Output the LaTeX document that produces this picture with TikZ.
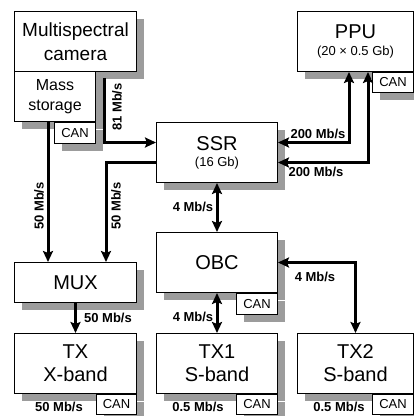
\documentclass[tikz,border=0pt]{standalone}
\usepackage{fontspec}
\setmainfont{Liberation Sans}
\usepackage{tikz}
\usetikzlibrary{arrows.meta,positioning,shadows}
\definecolor{ink}{HTML}{000000}
\definecolor{shade}{HTML}{9C9C9C}
\newcommand{\subtxt}[1]{{\fontsize{13}{15}\selectfont #1}}
\tikzset{
  unit/.style={rectangle, draw=ink, fill=white, line width=1pt, inner sep=0pt, align=center,
               anchor=north west, font=\fontsize{20}{23}\selectfont,
               drop shadow={shadow xshift=7pt, shadow yshift=-7pt, fill=shade, opacity=1}},
  canbox/.style={unit, font=\fontsize{13}{15}\selectfont, minimum width=41pt, minimum height=20pt},
  rate/.style={font=\fontsize{13}{15}\selectfont\bfseries, inner sep=0pt},
  link/.style={-{Stealth[length=11pt,width=10pt,inset=2pt]}, draw=ink, line width=3pt},
  duplex/.style={link, {Stealth[length=11pt,width=10pt,inset=2pt]}-{Stealth[length=11pt,width=10pt,inset=2pt]}}
}

\begin{document}
\begin{tikzpicture}[x=1pt, y=-1pt]
 \useasboundingbox (0,0) rectangle (414,416);
 \clip (0,0) rectangle (414,416);
 % payload side
 \node[unit, minimum width=122pt, minimum height=60pt, font=\fontsize{19}{24}\selectfont] (cam) at (14,11) {Multispectral\\camera};
 \node[unit, minimum width=81pt, minimum height=50pt, font=\fontsize{16}{20}\selectfont] (ms) at (14,71) {Mass\\storage};
 \node[canbox, minimum width=41pt, minimum height=21pt, below left=0pt of ms.south east] (mscan) {CAN};
 \node[unit, minimum width=116pt, minimum height=60pt] (ppu) at (297,11) {PPU\\[-6pt]\subtxt{(20 × 0.5 Gb)}};
 \node[canbox, below left=0pt of ppu.south east] (ppucan) {CAN};
 \node[unit, minimum width=121pt, minimum height=60pt] (ssr) at (156,122) {SSR\\[-7pt]\subtxt{(16 Gb)}};
 % platform side
 \node[unit, minimum width=122pt, minimum height=40pt] (mux) at (14,262) {MUX};
 \node[unit, minimum width=121pt, minimum height=60pt] (obc) at (156,232) {OBC};
 \node[canbox, minimum height=21pt, below left=0pt of obc.south east] (obccan) {CAN};
 \node[unit, minimum width=122pt, minimum height=60pt] (tx) at (14,333) {TX\\X-band};
 \node[canbox, minimum width=40pt, below left=0pt of tx.south east] (txcan) {CAN};
 \node[unit, minimum width=121pt, minimum height=60pt] (tx1) at (156,333) {TX1\\S-band};
 \node[canbox, below left=0pt of tx1.south east] (tx1can) {CAN};
 \node[unit, minimum width=116pt, minimum height=60pt] (tx2) at (297,333) {TX2\\S-band};
 \node[canbox, below left=0pt of tx2.south east] (tx2can) {CAN};

 \coordinate (camout) at (104,78);
 \draw[link] (camout) |- ([yshift=10pt]ssr.west);
 \draw[link] ([yshift=-10pt]ssr.west) -| ([xshift=-31pt]mux.north east);
 \draw[link] ([xshift=34pt]ms.south west) -- ([xshift=34pt]mux.north west);
 \draw[link] (mux) -- (tx);
 \draw[duplex] (ssr) -- (obc);
 \draw[duplex] (obc) -- (tx1);
 \draw[duplex] (obc) -| (tx2);
 \draw[duplex] ([xshift=52pt]ppu.south west) |- ([yshift=10pt]ssr.east);
 \draw[duplex] ([xshift=71pt]ppu.south west) |- ([yshift=-10pt]ssr.east);

 % data rates
 \node[rate, rotate=90] (r81) at (117,107) {81 Mb/s};
 \node[rate, rotate=90] (r50a) at (39,206) {50 Mb/s};
 \node[rate, rotate=90] (r50b) at (116,206) {50 Mb/s};
 \node[rate] (r50c) at (108,318) {50 Mb/s};
 \node[rate] (r200a) at (318,134) {200 Mb/s};
 \node[rate] (r200b) at (316,172) {200 Mb/s};
 \node[rate] (r4a) at (193,207) {4 Mb/s};
 \node[rate] (r4b) at (193,317) {4 Mb/s};
 \node[rate] (r4c) at (315,277) {4 Mb/s};
 \node[rate] (r50d) at (59,407) {50 Mb/s};
 \node[rate] (r05a) at (198,407) {0.5 Mb/s};
 \node[rate] (r05b) at (339,407) {0.5 Mb/s};
\end{tikzpicture}
\end{document}
